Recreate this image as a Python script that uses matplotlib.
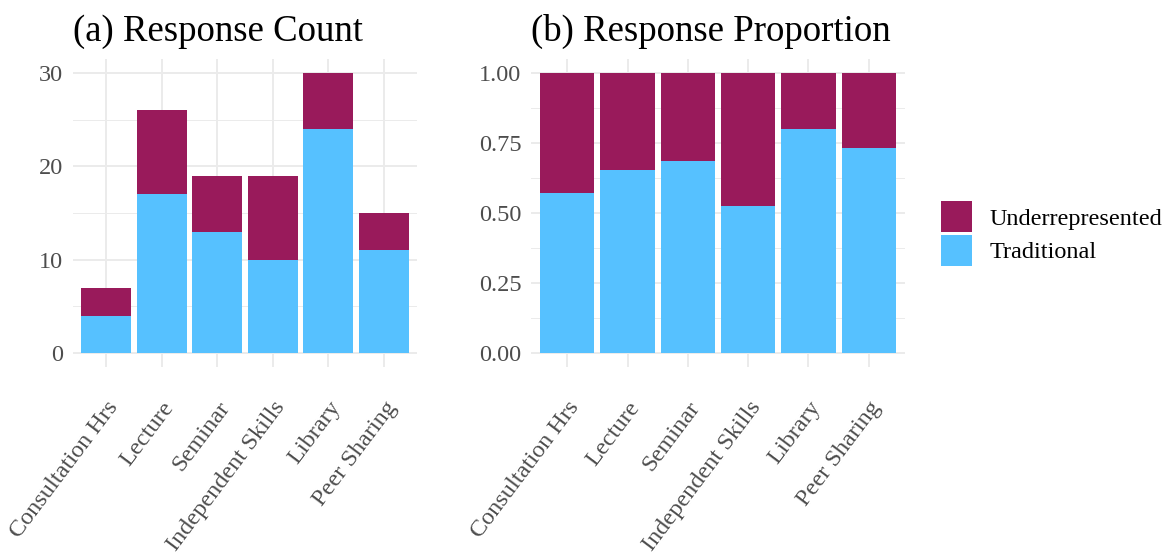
import matplotlib
matplotlib.use("Agg")
import matplotlib.pyplot as plt
from matplotlib.patches import Patch
import numpy as np

# Survey responses by learning resource
categories = ["Consultation Hrs", "Lecture", "Seminar", "Independent Skills", "Library", "Peer Sharing"]
traditional = [4, 17, 13, 10, 24, 11]
underrepresented = [3, 9, 6, 9, 6, 4]
series_names = ["Underrepresented", "Traditional"]
count_ticks = [0, 10, 20, 30]
prop_ticks = [0.0, 0.25, 0.50, 0.75, 1.00]
prop_tick_labels = ["0.00", "0.25", "0.50", "0.75", "1.00"]

C_UNDER = "#991A5B"
C_TRAD = "#56C1FF"
GRID = "#EBEBEB"
TXT = "#4D4D4D"

plt.rcParams["font.family"] = ["Liberation Serif", "DejaVu Serif"]

W, H = 1171, 554
fig = plt.figure(figsize=(W / 100, H / 100), dpi=100)


def px_axes(left, right, top, bottom):
    return fig.add_axes([left / W, 1 - bottom / H, (right - left) / W, (bottom - top) / H])


ax1 = px_axes(72.6, 417.4, 59, 367)
ax2 = px_axes(531, 905, 59, 367)

trad = np.array(traditional, dtype=float)
under = np.array(underrepresented, dtype=float)
total = trad + under
x = np.arange(1, len(categories) + 1)


def style(ax, ylim, major, minor):
    ax.set_xlim(0.4, len(categories) + 0.6)
    ax.set_ylim(*ylim)
    for s in ax.spines.values():
        s.set_visible(False)
    ax.set_yticks(major)
    ax.set_yticks(minor, minor=True)
    ax.set_xticks(x)
    ax.grid(True, which="major", color=GRID, linewidth=1.4, zorder=0)
    ax.grid(True, which="minor", axis="y", color=GRID, linewidth=0.7, zorder=0)
    ax.set_axisbelow(True)
    ax.tick_params(which="both", length=0)
    ax.tick_params(axis="y", labelsize=17.5, labelcolor=TXT, pad=7)
    ax.tick_params(axis="x", labelsize=17.5, labelcolor=TXT, pad=22)
    ax.set_xticklabels(categories, rotation=53, ha="right", va="top",
                       rotation_mode="anchor")


# (a) counts
ax1.bar(x, trad, width=0.9, color=C_TRAD, zorder=2)
ax1.bar(x, under, bottom=trad, width=0.9, color=C_UNDER, zorder=2)
style(ax1, (-1.5, 31.5), count_ticks, [5, 15, 25])
ax1.set_yticklabels([str(t) for t in count_ticks])
ax1.set_title("(a) Response Count", loc="left", fontsize=26.5, pad=13, color="black")

# (b) proportions
ax2.bar(x, trad / total, width=0.9, color=C_TRAD, zorder=2)
ax2.bar(x, under / total, bottom=trad / total, width=0.9, color=C_UNDER, zorder=2)
style(ax2, (-0.05, 1.05), prop_ticks, [0.125, 0.375, 0.625, 0.875])
ax2.set_yticklabels(prop_tick_labels)
ax2.set_title("(b) Response Proportion", loc="left", fontsize=26.5, pad=13, color="black")

handles = [Patch(facecolor=C_UNDER, edgecolor="none"), Patch(facecolor=C_TRAD, edgecolor="none")]
fig.legend(handles, series_names, loc="upper left", bbox_to_anchor=(941 / W, 1 - 201 / H),
           frameon=False, fontsize=17.5, handlelength=1.28, handleheight=1.6,
           handletextpad=0.72, labelspacing=0.1, borderpad=0, borderaxespad=0)

fig.savefig("out.png", dpi=100)
